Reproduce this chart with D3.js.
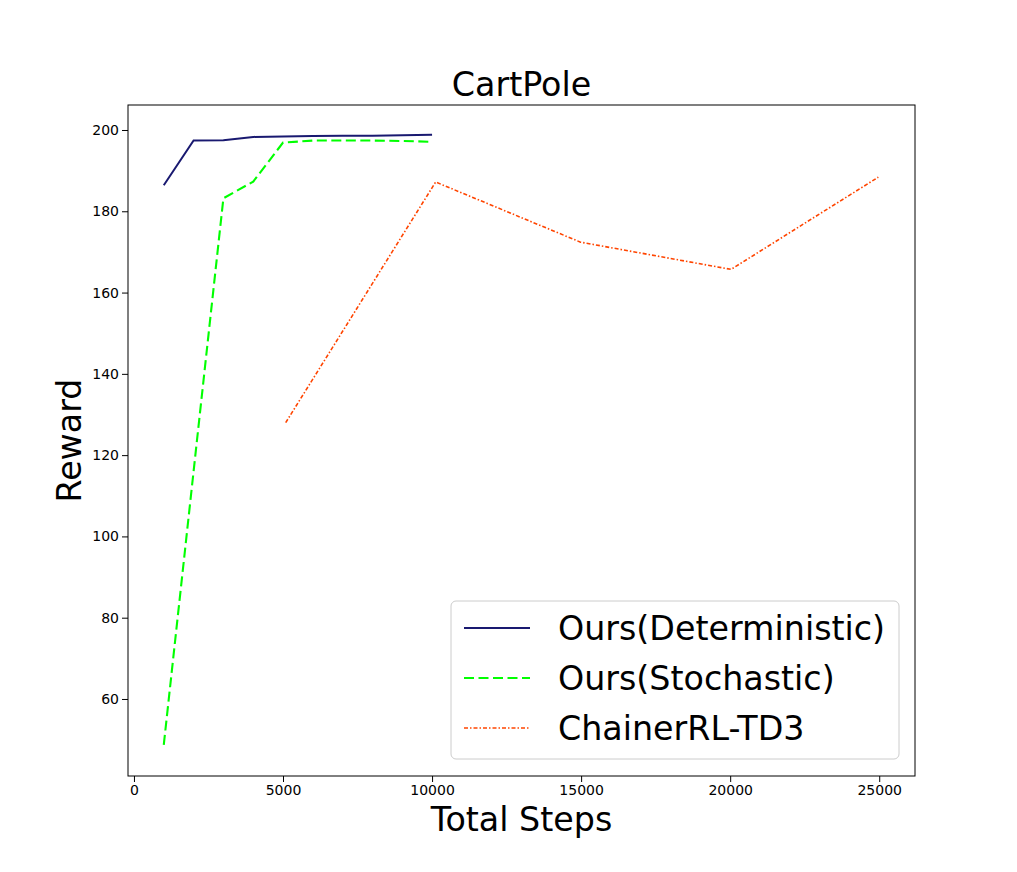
<!DOCTYPE html>
<html>
<head>
<meta charset="utf-8">
<script src="https://cdn.jsdelivr.net/npm/d3@7"></script>
<style>
  body { margin: 0; background: #fff; }
  text { font-family: "DejaVu Sans", sans-serif; }
</style>
</head>
<body>
<svg width="1017" height="872"></svg>
<script>
// values
const detSteps = [1000, 2000, 3000, 4000, 5000, 6000, 7000, 8000, 9000, 10000];
const detReward = [186.4, 197.4, 197.5, 198.3, 198.4, 198.5, 198.6, 198.6, 198.7, 198.8];

const stoSteps = [1000, 2000, 3000, 4000, 5000, 6000, 7000, 8000, 9000, 10000];
const stoReward = [48.7, 116.0, 183.2, 187.3, 196.9, 197.4, 197.4, 197.4, 197.3, 197.1];

const td3Steps = [5090, 10120, 14980, 20030, 24970];
const td3Reward = [128.0, 187.2, 172.4, 165.7, 188.4];

const xTicks = [0, 5000, 10000, 15000, 20000, 25000];
const yTicks = [60, 80, 100, 120, 140, 160, 180, 200];

const seriesNames = ['Ours(Deterministic)', 'Ours(Stochastic)', 'ChainerRL-TD3'];
const seriesColors = ['#191970', '#00ff00', '#ff4500'];

function draw() {
  const svg = d3.select('svg');
  const left = 128, right = 915, top = 105, bottom = 776;

  const x = d3.scaleLinear().domain([-200, 26200]).range([left, right]);
  const y = d3.scaleLinear().domain([41.05, 206.15]).range([bottom, top]);

  const series = [
    { steps: detSteps, vals: detReward, dash: null, width: 2 },
    { steps: stoSteps, vals: stoReward, dash: '10,4.5', width: 2.1 },
    { steps: td3Steps, vals: td3Reward, dash: '4,2,1.5,2', width: 1.6 },
  ];

  const line = d3.line().x(d => x(d[0])).y(d => y(d[1]));

  series.forEach(function (s, i) {
    svg.append('path')
      .attr('d', line(s.steps.map((v, j) => [v, s.vals[j]])))
      .attr('fill', 'none')
      .attr('stroke', seriesColors[i])
      .attr('stroke-width', s.width)
      .attr('stroke-dasharray', s.dash);
  });

  // axes
  const xAxis = d3.axisBottom(x).tickValues(xTicks).tickSize(6).tickPadding(3).tickFormat(d3.format('d'));
  const yAxis = d3.axisLeft(y).tickValues(yTicks).tickSize(6).tickPadding(3).tickFormat(d3.format('d'));

  const gx = svg.append('g').attr('transform', `translate(0,${bottom})`).call(xAxis);
  const gy = svg.append('g').attr('transform', `translate(${left},0)`).call(yAxis);
  [gx, gy].forEach(g => {
    g.select('.domain').remove();
    g.selectAll('text').attr('font-size', 14).attr('fill', '#000')
      .style('font-family', '"DejaVu Sans", sans-serif');
    g.selectAll('line').attr('stroke', '#000').attr('stroke-width', 1);
  });

  svg.append('rect')
    .attr('x', left).attr('y', top)
    .attr('width', right - left).attr('height', bottom - top)
    .attr('fill', 'none').attr('stroke', '#000').attr('stroke-width', 1);

  // titles
  svg.append('text').attr('x', (left + right) / 2).attr('y', 96)
    .attr('text-anchor', 'middle').attr('font-size', 33.3).text('CartPole');
  svg.append('text').attr('x', (left + right) / 2).attr('y', 831)
    .attr('text-anchor', 'middle').attr('font-size', 33.3).text('Total Steps');
  svg.append('text')
    .attr('transform', `translate(81,${(top + bottom) / 2}) rotate(-90)`)
    .attr('text-anchor', 'middle').attr('font-size', 33.3).text('Reward');

  // legend
  const lg = svg.append('g');
  lg.append('rect')
    .attr('x', 451).attr('y', 601).attr('width', 448).attr('height', 158)
    .attr('rx', 5).attr('fill', '#fff').attr('fill-opacity', 0.8)
    .attr('stroke', '#cccccc').attr('stroke-width', 1);
  seriesNames.forEach(function (name, i) {
    const ly = 628 + i * 50;
    lg.append('line')
      .attr('x1', 464).attr('x2', 530).attr('y1', ly).attr('y2', ly)
      .attr('stroke', seriesColors[i])
      .attr('stroke-width', series[i].width)
      .attr('stroke-dasharray', series[i].dash);
    lg.append('text').attr('x', 558).attr('y', ly + 12)
      .attr('font-size', 33.3).text(name);
  });
}

draw();
</script>
</body>
</html>
